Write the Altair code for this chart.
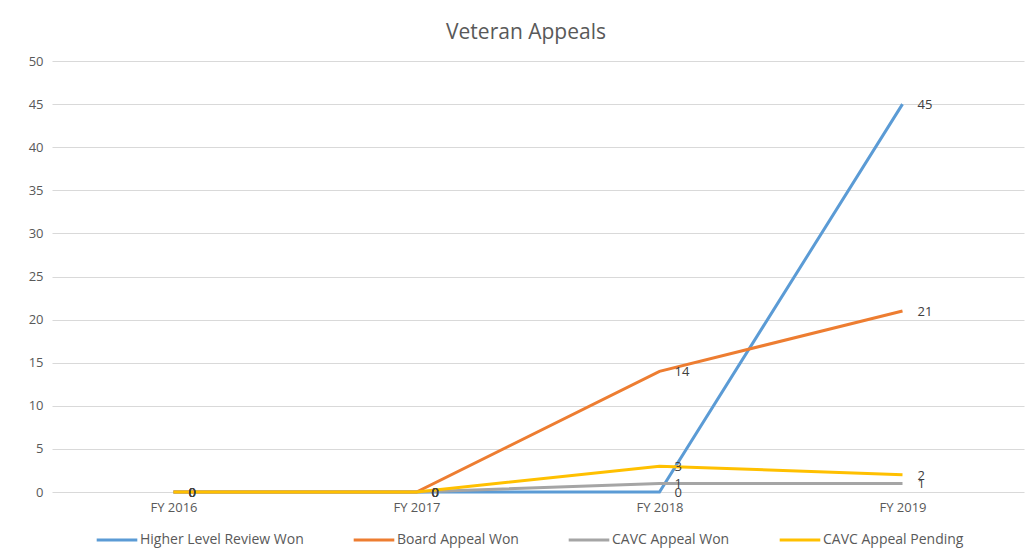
import altair as alt
import pandas as pd

years = ["FY 2016", "FY 2017", "FY 2018", "FY 2019"]
series_names = ["Higher Level Review Won", "Board Appeal Won", "CAVC Appeal Won", "CAVC Appeal Pending"]
higher_level = [0, 0, 0, 45]
board_appeal = [0, 0, 14, 21]
cavc_won = [0, 0, 1, 1]
cavc_pending = [0, 0, 3, 2]
colors = ["#5B9BD5", "#ED7D31", "#A5A5A5", "#FFC000"]

rows = []
for i, (name, vals) in enumerate(zip(series_names, [higher_level, board_appeal, cavc_won, cavc_pending])):
    for y, v in zip(years, vals):
        rows.append({"Year": y, "Series": name, "Value": v, "order": i})
df = pd.DataFrame(rows)

FONT = "Open Sans"

x_enc = alt.X("Year:N", sort=years, title=None,
              scale=alt.Scale(type="point", padding=0.5),
              axis=alt.Axis(labelAngle=0, ticks=False, domain=False, grid=False,
                            labelFontSize=13, labelColor="#595959", labelFont=FONT, labelPadding=9))
y_enc = alt.Y("Value:Q", title=None,
              scale=alt.Scale(domain=[0, 50]),
              axis=alt.Axis(values=list(range(0, 51, 5)), ticks=False, domain=False,
                            gridColor="#D9D9D9", labelFontSize=13, labelColor="#595959",
                            labelFont=FONT, labelPadding=9))
color_enc = alt.Color("Series:N", sort=series_names,
                      scale=alt.Scale(domain=series_names, range=colors),
                      legend=alt.Legend(title=None, orient="none", direction="horizontal",
                                        legendX=43, legendY=457, symbolType="stroke",
                                        symbolSize=1650, symbolStrokeWidth=3, labelFontSize=14,
                                        labelColor="#595959", labelFont=FONT, columnPadding=43,
                                        labelOffset=1, labelLimit=400))

lines = alt.Chart(df).mark_line(strokeWidth=3).encode(
    x=x_enc, y=y_enc, color=color_enc, order=alt.Order("order:Q"),
    detail="Series:N"
)

labels = alt.Chart(df).mark_text(align="left", baseline="middle", dx=15, dy=1,
                                 fontSize=13, color="#404040", font=FONT).encode(
    x=alt.X("Year:N", sort=years), y="Value:Q", text="Value:Q"
)

chart = alt.layer(lines, labels).properties(
    width=972, height=431,
    title=alt.TitleParams("Veteran Appeals", fontSize=21, color="#595959", font=FONT,
                          fontWeight="normal", offset=12, anchor="middle", dx=-12,
                          frame="group"),
    autosize=alt.AutoSizeParams(type="none"),
    padding={"left": 44, "top": 53, "right": 2, "bottom": 63},
).configure(background="white").configure_view(stroke=None)

chart.save("out.html", embed_options={"renderer": "svg", "actions": False})
